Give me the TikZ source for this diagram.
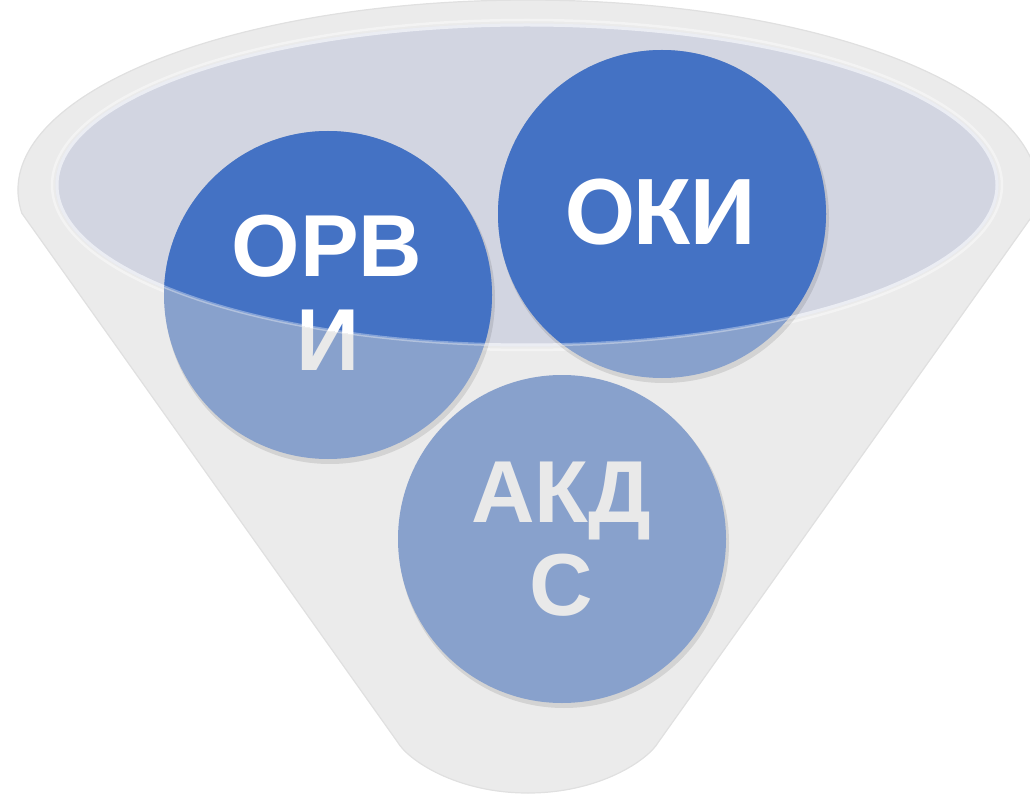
\documentclass[tikz,border=0pt]{standalone}
\usepackage{fontspec}
\setmainfont{Liberation Sans}
\newfontfamily\okifont{Carlito}
\definecolor{funnelgray}{HTML}{EBEBEB}
\definecolor{funneledge}{HTML}{E0E0E0}
\definecolor{opening}{HTML}{D2D5E1}
\definecolor{openrim}{HTML}{E1E4EE}
\definecolor{outerrim}{HTML}{F3F3F3}
\definecolor{darkblue}{HTML}{4472C4}
\definecolor{lightblue}{HTML}{88A1CC}
\definecolor{lighttext}{HTML}{E9E9E9}
\begin{document}
\begin{tikzpicture}[x=1pt,y=-1pt,
  bubble/.style={circle, minimum size=328pt, inner sep=0pt, draw=none},
  lbl/.style={anchor=base, inner sep=0pt, font=\fontsize{88}{93}\selectfont\bfseries},
  okilbl/.style={anchor=base, inner sep=0pt, font=\okifont\fontsize{100}{100}\selectfont\bfseries},
  shade/.style={fill=black, opacity=0.10}]
\useasboundingbox (0,0) rectangle (1030,799);
% funnel body
\path[fill=funnelgray, draw=funneledge, line width=1.2]
  (21.8,213.2) arc[start angle=173, end angle=367, x radius=510, y radius=190]
  -- (658.5,742) .. controls (648,760) and (600,793) .. (528,793)
  .. controls (456,793) and (408,760) .. (397.5,742) -- cycle;
% opening
\path[draw=outerrim, line width=2.5] (527,185) ellipse [x radius=475, y radius=165];
\path[fill=opening, draw=openrim, line width=3] (527,185) ellipse [x radius=470, y radius=160];
% shadows
\fill[shade] (330,299) circle[radius=165];
\fill[shade] (664,218) circle[radius=165];
\fill[shade] (564,543) circle[radius=165];
% circles (light, outside the opening)
\node[bubble, fill=lightblue] (orvi) at (328,295) {};
\node[bubble, fill=lightblue] (oki) at (662,214) {};
\node[bubble, fill=lightblue] (akds) at (562,539) {};
\node[lbl, text=lighttext] (orvi1) at (327,277) {ОРВ};
\node[lbl, text=lighttext] (orvi2) at (328,370) {И};
\node[okilbl, text=lighttext] (oki1) at (661,245) {ОКИ};
\node[lbl, text=lighttext] (akds1) at (561,522) {АКД};
\node[lbl, text=lighttext] (akds2) at (561,615) {С};
% parts inside the opening: dark
\begin{scope}
  \clip (527,185) ellipse [x radius=470, y radius=160];
  \node[bubble, fill=darkblue] (orviD) at (328,295) {};
  \node[bubble, fill=darkblue] (okiD) at (662,214) {};
  \node[lbl, text=white] (orvi1D) at (327,277) {ОРВ};
  \node[lbl, text=white] (orvi2D) at (328,370) {И};
  \node[okilbl, text=white] (oki1D) at (661,245) {ОКИ};
\end{scope}
% rim glow on top
\path[draw=white, opacity=0.35, line width=3] (527,185) ellipse [x radius=470, y radius=160];
\end{tikzpicture}
\end{document}
